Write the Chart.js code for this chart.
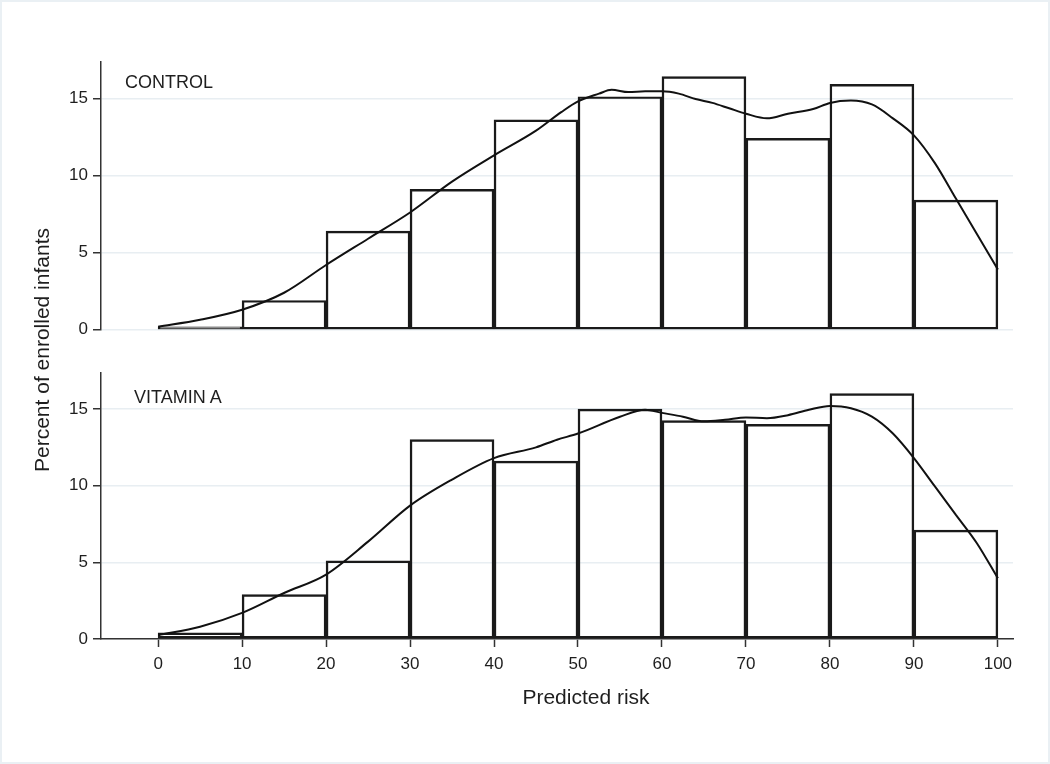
<!DOCTYPE html>
<html>
<head>
<meta charset="utf-8">
<script src="https://cdn.jsdelivr.net/npm/chart.js@4.4.1/dist/chart.umd.min.js"></script>
<style>
  body { margin: 0; background: #fff; }
  #wrap { position: relative; width: 1050px; height: 764px; font-family: "Liberation Sans", Arial, sans-serif; color: #1e1e1e; }
  #frame { position: absolute; left: 0; top: 0; width: 1050px; height: 764px; box-sizing: border-box; border: 2px solid #eaf0f4; pointer-events: none; }
  canvas { position: absolute; left: 0; }
  .lbl { position: absolute; white-space: nowrap; }
</style>
</head>
<body>
<div id="wrap">
  <canvas id="topChart" width="1050" height="345" style="top:0"></canvas>
  <canvas id="bottomChart" width="1050" height="424" style="top:340px"></canvas>
  <div class="lbl" style="left:125px;top:73px;font-size:18px;line-height:18px">CONTROL</div>
  <div class="lbl" style="left:134px;top:388px;font-size:18px;line-height:18px">VITAMIN A</div>
  <div class="lbl" style="left:586px;top:686px;font-size:21px;line-height:21px;transform:translateX(-50%)">Predicted risk</div>
  <div class="lbl" style="left:41px;top:350px;font-size:21px;line-height:21px;transform:translate(-50%,-50%) rotate(-90deg)">Percent of enrolled infants</div>
  <div id="frame"></div>
</div>
<script>
// histogram bins (predicted risk, 10-point bins)
const binCenters = [5, 15, 25, 35, 45, 55, 65, 75, 85, 95];
const controlPct = [0.2, 1.9, 6.4, 9.1, 13.6, 15.1, 16.4, 12.4, 15.9, 8.4];
const vitaminPct = [0.4, 2.9, 5.1, 13.0, 11.6, 15.0, 14.25, 14.0, 16.0, 7.1];

// density curves
const controlCurveX = [0, 5, 10, 15, 20, 25, 30, 35, 40, 45, 48, 50, 52.5, 54, 56, 58, 60, 62, 64, 66, 68, 70, 72.5, 75, 78, 80, 82.5, 85, 87.5, 90, 92.5, 95, 97.5, 100];
const controlCurveY = [0.2, 0.65, 1.3, 2.4, 4.2, 5.9, 7.6, 9.6, 11.3, 12.9, 14.1, 14.8, 15.3, 15.55, 15.4, 15.45, 15.45, 15.3, 14.95, 14.7, 14.35, 14.0, 13.7, 14.0, 14.3, 14.7, 14.85, 14.6, 13.7, 12.6, 10.8, 8.5, 6.2, 3.9];
const vitaminCurveX = [0, 5, 10, 15, 20, 25, 30, 35, 40, 45, 47.5, 50, 55, 58, 60, 62.5, 65, 67.5, 70, 72.5, 75, 77.5, 80, 82.5, 85, 87.5, 90, 92.5, 95, 97.5, 100];
const vitaminCurveY = [0.26, 0.8, 1.7, 3.0, 4.2, 6.35, 8.7, 10.4, 11.8, 12.5, 13.0, 13.4, 14.5, 14.95, 14.75, 14.5, 14.2, 14.3, 14.45, 14.4, 14.6, 14.95, 15.2, 15.05, 14.5, 13.4, 11.8, 9.95, 8.1, 6.25, 3.96];

const xTicks = [0, 10, 20, 30, 40, 50, 60, 70, 80, 90, 100];
const yTicks = [0, 5, 10, 15];

const font = { family: "'Liberation Sans', Arial, sans-serif", size: 17 };
const ink = "#1e1e1e";

function panel(canvasId, pct, cx, cy, showX) {
  const bars = binCenters.map((x, i) => ({ x: x, y: pct[i] }));
  const curve = cx.map((x, i) => ({ x: x, y: cy[i] }));

  return new Chart(document.getElementById(canvasId), {
    type: "bar",
    data: {
      datasets: [
        {
          type: "line",
          data: curve,
          borderColor: "#111",
          borderWidth: 2,
          pointRadius: 0,
          cubicInterpolationMode: "monotone",
          fill: false,
          order: 0
        },
        {
          data: bars,
          backgroundColor: "rgba(0,0,0,0)",
          borderColor: "#1a1a1a",
          borderWidth: 1.8,
          borderSkipped: false,
          barPercentage: 1,
          categoryPercentage: 1,
          order: 1
        }
      ]
    },
    options: {
      responsive: false,
      animation: false,
      layout: { padding: { top: showX ? 33 : 62, bottom: 0, left: 0, right: 37 } },
      plugins: { legend: { display: false }, tooltip: { enabled: false } },
      scales: {
        x: {
          type: "linear",
          min: -6.8,
          max: 101.8,
          offset: false,
          display: showX,
          afterFit: s => { if (showX) s.height = 125; },
          afterBuildTicks: s => { s.ticks = xTicks.map(v => ({ value: v })); },
          ticks: { font: font, color: ink, padding: 7, maxRotation: 0, autoSkip: false },
          grid: { offset: false, drawOnChartArea: false, tickColor: "#333", tickLength: 8, tickWidth: 1.5 },
          border: { color: "#333", width: 1.5 }
        },
        y: {
          min: 0,
          max: 17.35,
          afterFit: s => { s.width = 101; },
          afterBuildTicks: s => { s.ticks = yTicks.map(v => ({ value: v })); },
          ticks: { font: font, color: ink, padding: 5 },
          grid: { color: "#e8eef2", lineWidth: 1.5, tickColor: "#333", tickLength: 8, tickWidth: 1.5 },
          border: { color: "#333", width: 1.5 }
        }
      }
    }
  });
}

panel("topChart", controlPct, controlCurveX, controlCurveY, false);
panel("bottomChart", vitaminPct, vitaminCurveX, vitaminCurveY, true);
</script>
</body>
</html>
